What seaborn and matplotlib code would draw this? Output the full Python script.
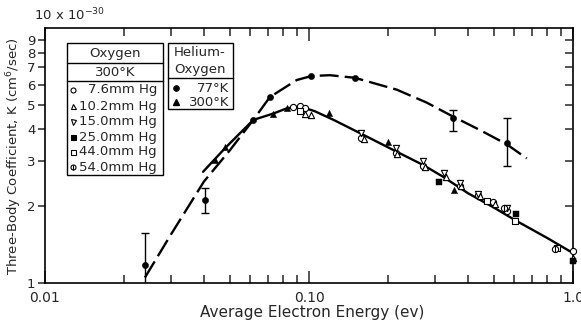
import numpy as np
import pandas as pd
import matplotlib
matplotlib.use("Agg")
import matplotlib.pyplot as plt
from matplotlib.patches import Rectangle
from matplotlib.lines import Line2D
import seaborn as sns

# ---------------- data ----------------
# Helium-Oxygen 77 K (filled circles, with error bars)
he77_x = [0.0239, 0.0404, 0.0615, 0.0711, 0.102, 0.149, 0.352, 0.561]
he77_y = [1.18, 2.12, 4.36, 5.36, 6.48, 6.38, 4.42, 3.53]
he77_lo = [0.97, 1.88, None, None, None, None, 3.95, 2.88]
he77_hi = [1.57, 2.36, None, None, None, None, 4.77, 4.42]

# Helium-Oxygen 300 K (filled triangles)
he300_x = [0.0440, 0.0481, 0.0733, 0.0823, 0.119, 0.200, 0.354]
he300_y = [3.04, 3.40, 4.59, 4.84, 4.66, 3.58, 2.31]

# Oxygen 300 K at several pressures
o76_x = [0.0873, 0.0925, 0.0966, 0.158, 0.213, 0.271, 0.373, 0.438, 0.499, 0.561, 1.0]
o76_y = [4.88, 4.96, 4.87, 3.72, 3.23, 2.87, 2.41, 2.21, 2.07, 1.92, 1.33]
o102_x = [0.0966, 0.102, 0.161, 0.216, 0.274, 0.329, 0.378, 0.443, 0.505, 1.0]
o102_y = [4.62, 4.55, 3.67, 3.21, 2.86, 2.61, 2.40, 2.19, 2.05, 1.25]
o150_x = [0.158, 0.213, 0.271, 0.325, 0.373, 0.438, 0.561]
o150_y = [3.87, 3.38, 3.02, 2.70, 2.46, 2.24, 1.97]
o250_x = [0.312, 0.608, 1.0]
o250_y = [2.50, 1.86, 1.22]
o440_x = [0.0925, 0.471, 0.603, 0.87]
o440_y = [4.74, 2.10, 1.75, 1.37]
o540_x = [0.549, 0.855]
o540_y = [1.96, 1.36]

# fitted curves
dash_x = [0.0239, 0.030, 0.040, 0.0502, 0.0615, 0.0711, 0.0898, 0.102, 0.120,
          0.149, 0.215, 0.279, 0.342, 0.444, 0.561, 0.668]
dash_y = [1.05, 1.55, 2.50, 3.32, 4.36, 5.36, 6.25, 6.48, 6.53,
          6.38, 5.73, 5.10, 4.56, 3.98, 3.50, 3.08]
solid_x = [0.0397, 0.0481, 0.0615, 0.0733, 0.0823, 0.0925, 0.105, 0.124, 0.156,
           0.209, 0.271, 0.322, 0.40, 0.50, 0.60, 0.80, 1.0]
solid_y = [2.73, 3.38, 4.36, 4.62, 4.84, 4.92, 4.72, 4.36, 3.87,
           3.32, 2.90, 2.61, 2.25, 1.98, 1.77, 1.50, 1.31]

x_major = [0.01, 0.1, 1.0]
x_major_labels = ["0.01", "0.10", "1.0"]
y_ticks = [1, 2, 3, 4, 5, 6, 7, 8, 9]
y_tick_labels = ["1", "2", "3", "4", "5", "6", "7", "8", "9"]

oxy_labels = ["7.6mm Hg", "10.2mm Hg", "15.0mm Hg", "25.0mm Hg", "44.0mm Hg", "54.0mm Hg"]
he_labels = ["77°K", "300°K"]

# ---------------- figure ----------------
sns.set_style("white")
plt.rcParams['font.family'] = ['DejaVu Sans']
W, H = 581, 322
fig = plt.figure(figsize=(W / 100, H / 100), dpi=100)
L, R, T, B = 45, 573, 28, 283
ax = fig.add_axes([L / W, 1 - B / H, (R - L) / W, (B - T) / H])
ax.set_xscale("log")
ax.set_yscale("log")
ax.set_xlim(0.01, 1.0)
ax.set_ylim(1.0, 10.0)

k = "black"
lw = 1.7
sns.lineplot(x=dash_x, y=dash_y, ax=ax, color=k, lw=lw, sort=False, estimator=None)
ax.lines[-1].set_dashes((8, 2.6))
sns.lineplot(x=solid_x, y=solid_y, ax=ax, color=k, lw=lw, sort=False, estimator=None)

ms = 20
# error bars
for x, y, lo, hi in zip(he77_x, he77_y, he77_lo, he77_hi):
    if lo is not None:
        ax.errorbar([x], [y], yerr=[[y - lo], [hi - y]], fmt="none", ecolor=k,
                    elinewidth=1.0, capsize=3, capthick=1.0, clip_on=True)
sns.scatterplot(x=he77_x, y=he77_y, ax=ax, marker="o", color=k, s=ms, edgecolor=k, zorder=5)
sns.scatterplot(x=he300_x, y=he300_y, ax=ax, marker="^", color=k, s=ms, edgecolor=k, zorder=5)

open_kw = dict(facecolor="white", edgecolor=k, linewidth=0.8, zorder=5, clip_on=False)
sns.scatterplot(x=o76_x, y=o76_y, ax=ax, marker="o", s=ms, **open_kw)
sns.scatterplot(x=o102_x, y=o102_y, ax=ax, marker="^", s=ms, **open_kw)
sns.scatterplot(x=o150_x, y=o150_y, ax=ax, marker="v", s=ms, **open_kw)
sns.scatterplot(x=o250_x, y=o250_y, ax=ax, marker="s", s=16, color=k, edgecolor=k, zorder=5, clip_on=False)
sns.scatterplot(x=o440_x, y=o440_y, ax=ax, marker="s", s=16, **open_kw)
sns.scatterplot(x=o540_x, y=o540_y, ax=ax, marker="o", s=ms, **open_kw)
sns.scatterplot(x=o540_x, y=o540_y, ax=ax, marker="|", s=ms, color=k, linewidth=0.8, zorder=6)

# ---------------- axes styling ----------------
for sp in ax.spines.values():
    sp.set_linewidth(1.2)
    sp.set_color(k)

ax.set_xticks(x_major)
ax.set_xticklabels(x_major_labels)
ax.xaxis.set_minor_locator(matplotlib.ticker.LogLocator(base=10, subs=np.arange(2, 10)))
ax.xaxis.set_minor_formatter(matplotlib.ticker.NullFormatter())
ax.tick_params(axis="x", which="major", direction="in", length=9, width=1.1,
               top=True, bottom=True, labelsize=10, pad=6)
ax.tick_params(axis="x", which="minor", direction="in", length=6, width=1.1,
               top=True, bottom=True)

ax.set_yticks(y_ticks)
ax.set_yticklabels(y_tick_labels)
ax.yaxis.set_minor_locator(matplotlib.ticker.NullLocator())
ax.tick_params(axis="y", which="major", direction="out", length=5, width=1.1,
               left=True, right=False, labelsize=9.5, pad=2)
# right-side inward ticks
axr = ax.twinx()
axr.set_yscale("log")
axr.set_ylim(1.0, 10.0)
axr.set_yticks(y_ticks[1:])
axr.yaxis.set_minor_locator(matplotlib.ticker.NullLocator())
axr.set_yticklabels([])
axr.tick_params(axis="y", direction="in", length=6, width=1.1)
for sp in axr.spines.values():
    sp.set_visible(False)

ax.set_xlabel("")
ax.set_ylabel("")
ax.text(-0.02, 1.05, "10 x 10$^{-30}$", transform=ax.transAxes, ha="left",
        va="center", fontsize=9.5)
fig.text(14 / W, 1 - 156 / H, "Three-Body Coefficient, K (cm$^6$/sec)", rotation=90,
         ha="center", va="center", fontsize=9.5)
fig.text(312 / W, 1 - 313 / H, "Average Electron Energy (ev)", ha="center",
         va="center", fontsize=11)

# ---------------- legend boxes ----------------
def fx(px):
    return px / W

def fy(py):
    return 1 - py / H

def box(x0, y0, x1, y1):
    fig.add_artist(Rectangle((fx(x0), fy(y1)), fx(x1) - fx(x0), fy(y0) - fy(y1),
                             transform=fig.transFigure, facecolor="white",
                             edgecolor=k, linewidth=1.0, zorder=10))

def hline(x0, x1, y):
    fig.add_artist(Line2D([fx(x0), fx(x1)], [fy(y), fy(y)], transform=fig.transFigure,
                          color=k, linewidth=1.0, zorder=11))

fs = 9.5
box(67, 43, 163, 175)
hline(67, 163, 63)
hline(67, 163, 81)
fig.text(fx(115), fy(53), "Oxygen", ha="center", va="center", fontsize=fs, zorder=12)
fig.text(fx(115), fy(72), "300°K", ha="center", va="center", fontsize=fs, zorder=12)
oxy_marks = [("o", "white"), ("^", "white"), ("v", "white"), ("s", k), ("s", "white"), ("o", "white")]
rows = [90, 106, 122, 137, 152, 167]
for (m, fc), lab, ry in zip(oxy_marks, oxy_labels, rows):
    fig.add_artist(Line2D([fx(73)], [fy(ry)], marker=m, markersize=3.6, markerfacecolor=fc,
                          markeredgecolor=k, markeredgewidth=0.8, linestyle="none",
                          transform=fig.transFigure, zorder=12))
    fig.text(fx(157), fy(ry), lab, ha="right", va="center", fontsize=fs, zorder=12)
fig.add_artist(Line2D([fx(73)], [fy(167)], marker="|", markersize=3.6, color=k,
                      markeredgewidth=0.8, linestyle="none",
                      transform=fig.transFigure, zorder=13))

box(168, 43, 233, 109)
hline(168, 233, 78)
fig.text(fx(200), fy(53), "Helium-", ha="center", va="center", fontsize=fs, zorder=12)
fig.text(fx(200), fy(69), "Oxygen", ha="center", va="center", fontsize=fs, zorder=12)
for m, lab, ry in zip(["o", "^"], he_labels, [88, 102]):
    fig.add_artist(Line2D([fx(176)], [fy(ry)], marker=m, markersize=3.8, color=k,
                          linestyle="none", transform=fig.transFigure, zorder=12))
    fig.text(fx(229), fy(ry), lab, ha="right", va="center", fontsize=fs, zorder=12)

fig.savefig("out.png", dpi=100)
